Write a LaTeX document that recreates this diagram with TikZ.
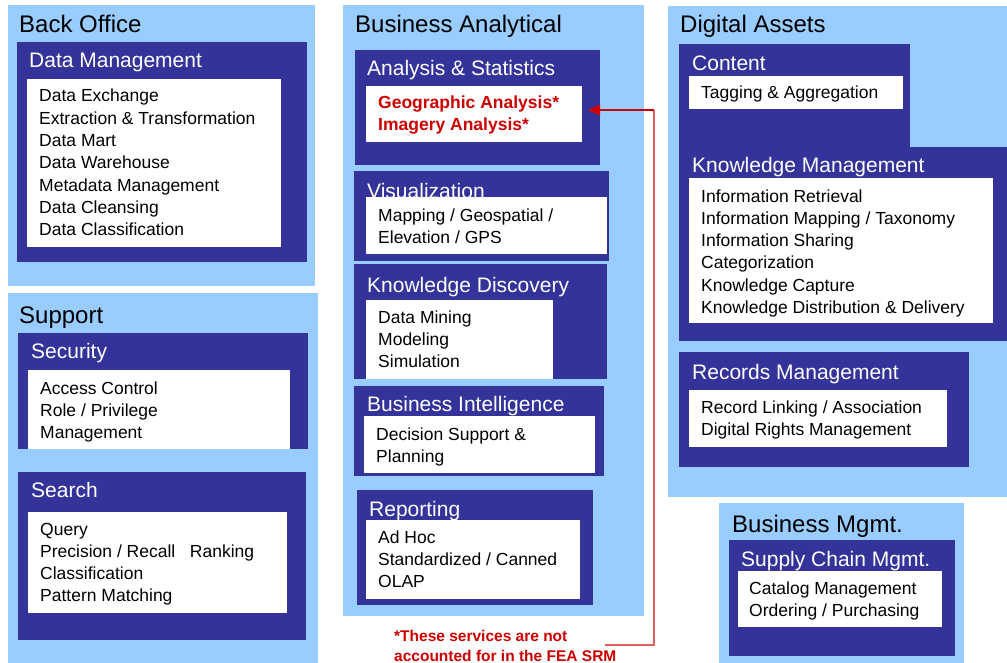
\documentclass[tikz,border=0pt]{standalone}
\usepackage{fontspec}
\setmainfont{Liberation Sans}
\usetikzlibrary{fit,arrows.meta}
\definecolor{lblue}{HTML}{99CCFF}
\definecolor{dblue}{HTML}{333399}
\definecolor{fred}{HTML}{CC0000}
\definecolor{lred}{HTML}{E06060}
\newcommand{\rbox}[6]{\node[#1, fit={(#3,#4) (#5,#6)}, inner sep=0pt, outer sep=0pt] (#2) {};}
\tikzset{
  outerbox/.style={fill=lblue},
  innerbox/.style={fill=dblue},
  whitebox/.style={fill=white},
  otitle/.style={font=\fontsize{24}{28}\selectfont, anchor=base west, inner sep=0pt, text=black},
  ititle/.style={font=\fontsize{21}{25}\selectfont, anchor=base west, inner sep=0pt, text=white},
  body/.style={font=\fontsize{17.5}{22.3}\selectfont, anchor=base west, inner sep=0pt, align=left, text=black},
  redbody/.style={body, font=\fontsize{17.5}{22}\selectfont\bfseries, text=fred},
  note/.style={font=\fontsize{15.5}{19.5}\selectfont\bfseries, anchor=base west, inner sep=0pt, align=left, text=fred},
  redline/.style={draw=lred, line width=1.3pt},
}
% body nodes are placed at the baseline of their LAST line
\begin{document}
\begin{tikzpicture}[x=1pt,y=-1pt]
\useasboundingbox (0,0) rectangle (1007,663);
% ---------- Back Office ----------
\rbox{outerbox}{bo}{8}{5}{315}{286}
\node[otitle] (bot) at (19,33) {Back Office};
\rbox{innerbox}{dm}{17}{42}{307}{262}
\node[ititle] (dmt) at (29,68) {Data Management};
\rbox{whitebox}{dmw}{27}{79}{281}{247}
\node[body] (dmb) at (39,235.8) {Data Exchange\\Extraction \& Transformation\\Data Mart\\Data Warehouse\\Metadata Management\\Data Cleansing\\Data Classification};
% ---------- Support ----------
\rbox{outerbox}{su}{8}{293}{318}{663}
\node[otitle] (sut) at (19,323) {Support};
\rbox{innerbox}{se}{18}{333}{308}{449}
\node[ititle] (set) at (31,358) {Security};
\rbox{whitebox}{sew}{28}{370}{290}{449}
\node[body] (seb) at (40,438.6) {Access Control\\Role / Privilege\\Management};
\rbox{innerbox}{sr}{18}{472}{306}{640}
\node[ititle] (srt) at (31,497) {Search};
\rbox{whitebox}{srw}{28}{512}{287}{613}
\node[body] (srb) at (40,601.9) {Query\\Precision / Recall\ \ \ Ranking\\Classification\\Pattern Matching};
% ---------- Business Analytical ----------
\rbox{outerbox}{ba}{343}{5}{644}{616}
\node[otitle] (bat) at (355,33) {Business Analytical};
\rbox{innerbox}{as}{355}{50}{600}{165}
\node[ititle] (ast) at (367,76) {Analysis \& Statistics};
\rbox{whitebox}{asw}{366}{86}{582}{142}
\node[redbody] (asb) at (378,131) {Geographic Analysis*\\Imagery Analysis*};
\rbox{innerbox}{vi}{354}{171}{609}{261}
\node[ititle] (vit) at (367,199) {Visualization};
\rbox{whitebox}{viw}{366}{197}{607}{254}
\node[body] (vib) at (378,243.5) {Mapping / Geospatial /\\Elevation / GPS};
\rbox{innerbox}{kd}{354}{264}{607}{379}
\node[ititle] (kdt) at (367,292) {Knowledge Discovery};
\rbox{whitebox}{kdw}{366}{300}{553}{379}
\node[body] (kdb) at (378,367.6) {Data Mining\\Modeling\\Simulation};
\rbox{innerbox}{bi}{354}{386}{604}{476}
\node[ititle] (bit) at (367,411) {Business Intelligence};
\rbox{whitebox}{biw}{364}{416}{595}{473}
\node[body] (bib) at (376,462.3) {Decision Support \&\\Planning};
\rbox{innerbox}{rp}{357}{490}{593}{605}
\node[ititle] (rpt) at (369,516) {Reporting};
\rbox{whitebox}{rpw}{366}{520}{580}{599}
\node[body] (rpb) at (378,587.6) {Ad Hoc\\Standardized / Canned\\OLAP};
\node[note] (nt) at (394,661) {*These services are not\\accounted for in the FEA SRM};
% ---------- Digital Assets ----------
\rbox{outerbox}{da}{668}{6}{1007}{497}
\node[otitle] (dat) at (680,33) {Digital Assets};
\rbox{innerbox}{co}{679}{44}{910}{148}
\rbox{innerbox}{km}{679}{147}{1007}{341}
\node[ititle] (cot) at (692,71) {Content};
\rbox{whitebox}{cow}{689}{76}{903}{109}
\node[body] (cob) at (701,99) {Tagging \& Aggregation};
\node[ititle] (kmt) at (692,173) {Knowledge Management};
\rbox{whitebox}{kmw}{689}{178}{993}{323}
\node[body] (kmb) at (701,313.5) {Information Retrieval\\Information Mapping / Taxonomy\\Information Sharing\\Categorization\\Knowledge Capture\\Knowledge Distribution \& Delivery};
\rbox{innerbox}{rm}{679}{352}{969}{467}
\node[ititle] (rmt) at (692,379) {Records Management};
\rbox{whitebox}{rmw}{689}{390}{947}{447}
\node[body] (rmb) at (701,435.3) {Record Linking / Association\\Digital Rights Management};
% ---------- Business Mgmt ----------
\rbox{outerbox}{bm}{719}{503}{964}{663}
\node[otitle] (bmt) at (732,532) {Business Mgmt.};
\rbox{innerbox}{sc}{729}{540}{955}{656}
\node[ititle] (sct) at (741,566) {Supply Chain Mgmt.};
\rbox{whitebox}{scw}{738}{571}{942}{627}
\node[body] (scb) at (749,616.3) {Catalog Management\\Ordering / Purchasing};
% ---------- connector ----------
\coordinate (nstart) at (605,645);
\coordinate (bend) at (654,110);
\coordinate (tip) at (588,110);
\draw[redline] (nstart) -| (bend);
\draw[draw=fred, line width=1.3pt, -{Triangle[length=12pt,width=11pt]}] (bend) -- (tip);
\end{tikzpicture}
\end{document}
